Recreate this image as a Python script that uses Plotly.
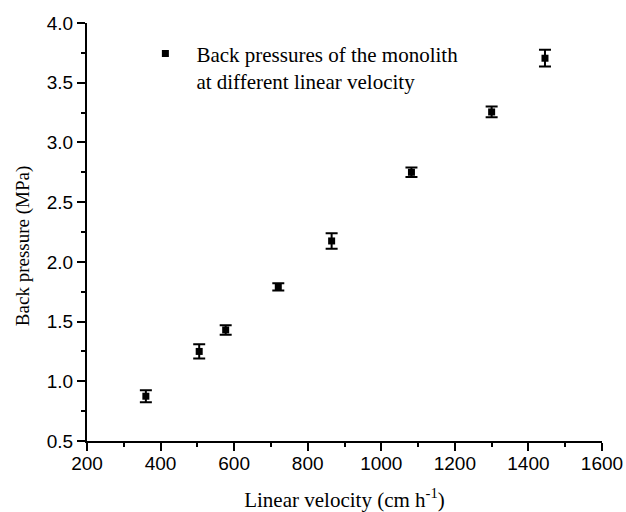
import plotly.graph_objects as go

velocity = [360, 505, 577, 720, 865, 1082, 1300, 1445]
pressure = [0.875, 1.25, 1.43, 1.79, 2.175, 2.75, 3.255, 3.705]
pressure_err = [0.05, 0.06, 0.04, 0.03, 0.065, 0.04, 0.045, 0.07]
series_name = "Back pressures of the monolith<br>at different linear velocity"
x_title = "Linear velocity (cm h<sup>-1</sup>)"
y_title = "Back pressure (MPa)"

serif = "Liberation Serif, Times New Roman, serif"

fig = go.Figure()
fig.add_trace(go.Scatter(
    x=velocity, y=pressure, mode="markers", name=series_name,
    marker=dict(symbol="square", size=7, color="black"),
    error_y=dict(type="data", array=pressure_err, visible=True,
                 color="black", thickness=2, width=6),
))

axis_common = dict(
    showline=True, linecolor="black", linewidth=2, mirror=False,
    ticks="outside", ticklen=8, tickwidth=2, tickcolor="black",
    showgrid=False, zeroline=False, automargin=False,
    tickfont=dict(family="Liberation Sans, Arial", size=19, color="black"),
)

fig.update_layout(
    width=626, height=512,
    margin=dict(l=87, r=24, t=23, b=71),
    plot_bgcolor="white", paper_bgcolor="white",
    showlegend=True,
    legend=dict(x=0.092, y=0.975, xanchor="left", yanchor="top",
                valign="top", itemwidth=52,
                bgcolor="rgba(0,0,0,0)",
                font=dict(family=serif, size=21, color="black")),
    xaxis=dict(range=[200, 1600], dtick=200, tick0=200, ticklabelstandoff=-4,
               minor=dict(ticks="outside", ticklen=4, tickwidth=2, tickcolor="black", dtick=100),
               title=dict(text=x_title, standoff=22,
                          font=dict(family=serif, size=21, color="black")),
               **axis_common),
    yaxis=dict(range=[0.5, 4.0], dtick=0.5, tick0=0.5, tickformat=".1f",
               minor=dict(ticks="outside", ticklen=4, tickwidth=2, tickcolor="black", dtick=0.25),
               **axis_common),
    annotations=[dict(text=y_title, textangle=-90, xref="paper", yref="paper",
                      x=-0.124, y=0.4665, xanchor="center", yanchor="middle",
                      showarrow=False,
                      font=dict(family=serif, size=19, color="black"))],
)

fig.write_html("out.html")
